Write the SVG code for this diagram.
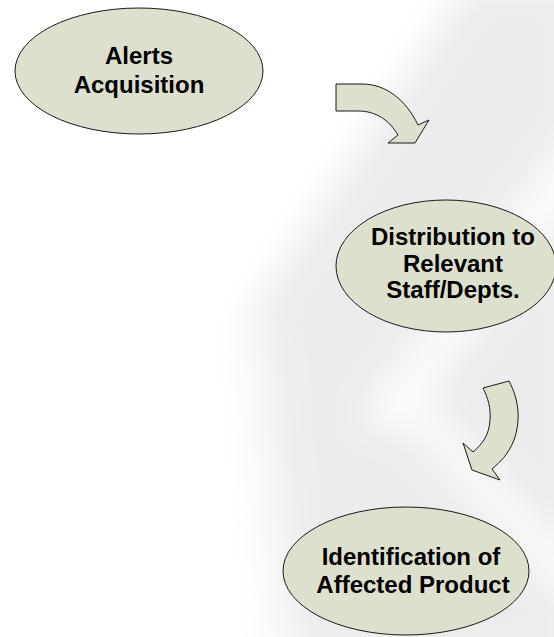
<svg xmlns="http://www.w3.org/2000/svg" width="554" height="637" viewBox="0 0 554 637">
<defs>
<filter id="blur" x="-30%" y="-30%" width="160%" height="160%"><feGaussianBlur stdDeviation="18"/></filter>
<style>
.node{fill:#dde0cc;stroke:#1a1a1a;stroke-width:1}
.lbl{font-family:"Liberation Sans",Arial,sans-serif;font-weight:bold;font-size:24px;fill:#000;text-anchor:middle}
.arrow{fill:#dde0cc;stroke:#1a1a1a;stroke-width:1;stroke-linejoin:miter}
</style>
</defs>
<rect width="554" height="637" fill="#ffffff"/>
<g id="background" filter="url(#blur)">
<polygon points="470,-20 580,-20 580,660 270,660 240,330" fill="#ececee"/>
<polygon points="580,120 580,190 400,430 360,420" fill="#ffffff" opacity="0.9"/>
<polygon points="380,400 420,390 580,560 580,620" fill="#ffffff" opacity="0.7"/>
<polygon points="230,330 270,320 300,660 190,660" fill="#ffffff" opacity="0.6"/>
</g>
<g id="connectors">
<path class="arrow" d="M336,84 L362,84 C386,84 406,100 418,125 L429,120 L415,143 L388,143 L398,135 C389,120 376,111 358,111 L336,111 Z"/>
<path class="arrow" d="M483,388 L509,381 C519,400 521,420 514,440 C508,455 500,462 492,469 L500,480 L472,470 L463,443 L473,452 C482,444 489,436 490,420 C491,408 488,398 483,388 Z"/>
</g>
<g id="node-alerts">
<ellipse class="node" cx="139" cy="71" rx="124" ry="63"/>
<text class="lbl" x="139" y="64">Alerts</text>
<text class="lbl" x="139" y="93">Acquisition</text>
</g>
<g id="node-distribution">
<ellipse class="node" cx="446" cy="266" rx="110" ry="66"/>
<text class="lbl" x="453" y="245">Distribution to</text>
<text class="lbl" x="453" y="272">Relevant</text>
<text class="lbl" x="453" y="298">Staff/Depts.</text>
</g>
<g id="node-identification">
<ellipse class="node" cx="406" cy="571" rx="123" ry="64"/>
<text class="lbl" x="411" y="565">Identification of</text>
<text class="lbl" x="413" y="593">Affected Product</text>
</g>
</svg>
